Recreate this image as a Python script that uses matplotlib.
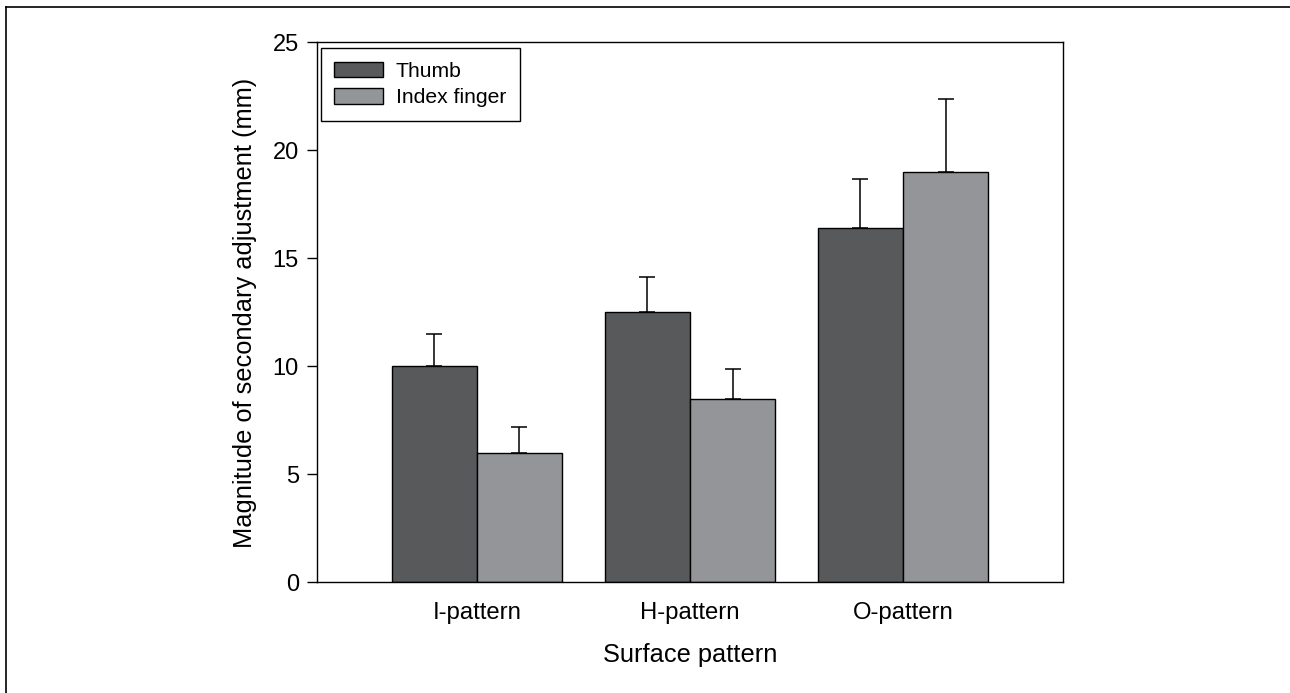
import numpy as np
import matplotlib
matplotlib.use('Agg')
import matplotlib.pyplot as plt
from matplotlib.lines import Line2D

plt.rcParams['font.family'] = ['Liberation Sans', 'DejaVu Sans']

patterns = ['I-pattern', 'H-pattern', 'O-pattern']
thumb = [10.0, 12.5, 16.4]
thumb_err = [1.5, 1.65, 2.3]
index = [6.0, 8.5, 19.0]
index_err = [1.18, 1.36, 3.4]

thumb_col = '#58595b'
index_col = '#939598'

################################################################################
fig = plt.figure(figsize=(12.9,6.93), dpi=100)
ax = fig.add_axes([0.2457, 0.1597, 0.5783, 0.779])

x = np.arange(len(patterns))
w = 0.4

ax.bar(x-w/2, thumb, w, color=thumb_col, edgecolor='black', linewidth=1.0, label='Thumb', zorder=2)
ax.bar(x+w/2, index, w, color=index_col, edgecolor='black', linewidth=1.0, label='Index finger', zorder=2)

ax.errorbar(x-w/2, thumb, yerr=[np.zeros(3), thumb_err], fmt='none', ecolor='black',
            elinewidth=1.1, capsize=6, capthick=1.1, zorder=1)
ax.errorbar(x+w/2, index, yerr=[np.zeros(3), index_err], fmt='none', ecolor='black',
            elinewidth=1.1, capsize=6, capthick=1.1, zorder=1)

ax.set_xlim(-0.75, 2.75)
ax.set_ylim(0, 25)
ax.set_yticks([0,5,10,15,20,25])
ax.set_xticks(x)
ax.set_xticklabels(patterns)

ax.tick_params(axis='x', length=0, pad=14, labelsize=17.2)
ax.tick_params(axis='y', length=7, width=1.0, direction='out', pad=6, labelsize=17)
for s in ax.spines.values():
    s.set_linewidth(1.0)

ax.set_xlabel('Surface pattern', fontsize=18.3, labelpad=14)
ax.set_ylabel('Magnitude of secondary adjustment (mm)', fontsize=18.3, labelpad=11)

leg = ax.legend(loc='upper left', bbox_to_anchor=(0.005, 0.99), borderaxespad=0,
                fontsize=15.2, fancybox=False, framealpha=1, edgecolor='black',
                handlelength=2.3, handleheight=0.75, handletextpad=0.6,
                borderpad=0.65, labelspacing=0.35)
leg.get_frame().set_linewidth(1.0)

# frame lines of the original figure (top and left)
fig.add_artist(Line2D([0.0047, 1.0], [0.99, 0.99], color='black', linewidth=1.2, transform=fig.transFigure))
fig.add_artist(Line2D([0.0047, 0.0047], [0.0, 0.99], color='black', linewidth=1.2, transform=fig.transFigure))

plt.savefig('out.png', dpi=100)
